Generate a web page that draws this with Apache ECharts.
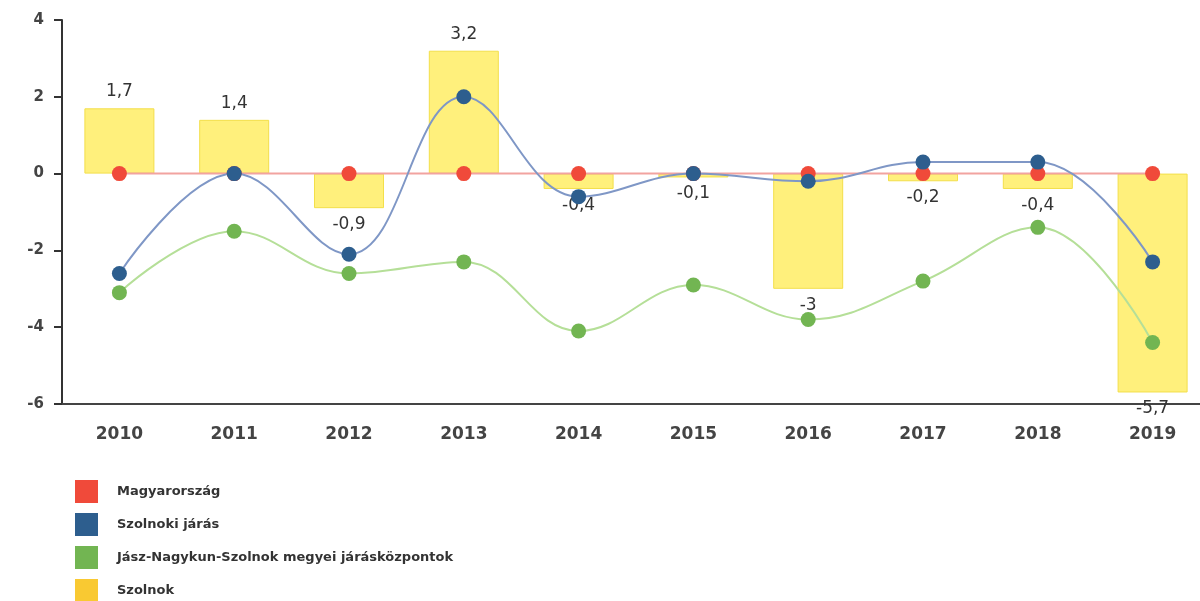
<!DOCTYPE html>
<html lang="hu">
<head>
<meta charset="UTF-8">
<title>Szolnok</title>
<script src="https://cdn.jsdelivr.net/npm/echarts@6/dist/echarts.min.js"></script>
<style>
  html, body { margin: 0; padding: 0; background: #fff; overflow: hidden; }
  #chart { width: 1210px; height: 601px; }
</style>
</head>
<body>
<div id="chart"></div>
<script type="text/javascript">
    var years = ['2010', '2011', '2012', '2013', '2014', '2015', '2016', '2017', '2018', '2019'];
    var magyarorszag = [0, 0, 0, 0, 0, 0, 0, 0, 0, 0];
    var szolnokiJaras = [-2.6, 0, -2.1, 2.0, -0.6, 0, -0.2, 0.3, 0.3, -2.3];
    var jaraskozpontok = [-3.1, -1.5, -2.6, -2.3, -4.1, -2.9, -3.8, -2.8, -1.4, -4.4];
    var szolnok = [1.7, 1.4, -0.9, 3.2, -0.4, -0.1, -3, -0.2, -0.4, -5.7];

    var chart = echarts.init(document.getElementById('chart'));

    // bar items: lighter fill than the legend swatch, label above or below
    var barData = szolnok.map(function (v) {
        return {
            value: v,
            itemStyle: { color: '#fff07c', borderColor: '#f3df4a', borderWidth: 1 },
            label: { position: v >= 0 ? 'top' : 'bottom' }
        };
    });

    function lineSeries(name, data, lineColor, dotColor) {
        return {
            name: name,
            type: 'line',
            data: data,
            smooth: 0.4,
            symbol: 'circle',
            symbolSize: 15,
            z: 3,
            itemStyle: { color: dotColor },
            lineStyle: { color: lineColor, width: 2 }
        };
    }

    chart.setOption({
        animation: false,
        grid: { left: 62, right: 0, top: 20, bottom: 197 },
        legend: {
            orient: 'vertical',
            left: 70,
            top: 475,
            height: 200,
            itemWidth: 23,
            itemHeight: 23,
            itemGap: 10,
            icon: 'rect',
            data: ['Magyarország', 'Szolnoki járás', 'Jász-Nagykun-Szolnok megyei járásközpontok', 'Szolnok'],
            textStyle: { fontFamily: 'DejaVu Sans', fontWeight: 'bold', fontSize: 13, color: '#333', padding: [0, 0, 0, 14] }
        },
        xAxis: {
            type: 'category',
            data: years,
            axisLine: { onZero: false, lineStyle: { color: '#444', width: 2 } },
            axisTick: { alignWithLabel: true, length: 6, lineStyle: { color: '#444', width: 2 } },
            axisLabel: { fontFamily: 'DejaVu Sans', fontWeight: 'bold', fontSize: 17, color: '#444', margin: 22 }
        },
        yAxis: {
            type: 'value',
            min: -6,
            max: 4,
            interval: 2,
            splitLine: { show: false },
            axisLine: { show: true, lineStyle: { color: '#333', width: 2 } },
            axisTick: { show: true, length: 8, lineStyle: { color: '#333', width: 2 } },
            axisLabel: { fontFamily: 'DejaVu Sans', fontWeight: 'bold', fontSize: 15, color: '#444', margin: 18 }
        },
        series: [
            lineSeries('Magyarország', magyarorszag, '#f2a3a0', '#f04a3a'),
            lineSeries('Szolnoki járás', szolnokiJaras, '#7f97c6', '#2d5e8e'),
            lineSeries('Jász-Nagykun-Szolnok megyei járásközpontok', jaraskozpontok, '#b5df98', '#72b552'),
            {
                name: 'Szolnok',
                type: 'bar',
                data: barData,
                barWidth: 70,
                z: 1,
                itemStyle: { color: '#f9c932' },
                label: {
                    show: true,
                    distance: 8,
                    fontFamily: 'DejaVu Sans',
                    fontSize: 17,
                    color: '#333',
                    formatter: function (p) {
                        return String(p.value).replace('.', ',');
                    }
                }
            }
        ]
    });
</script>
</body>
</html>
